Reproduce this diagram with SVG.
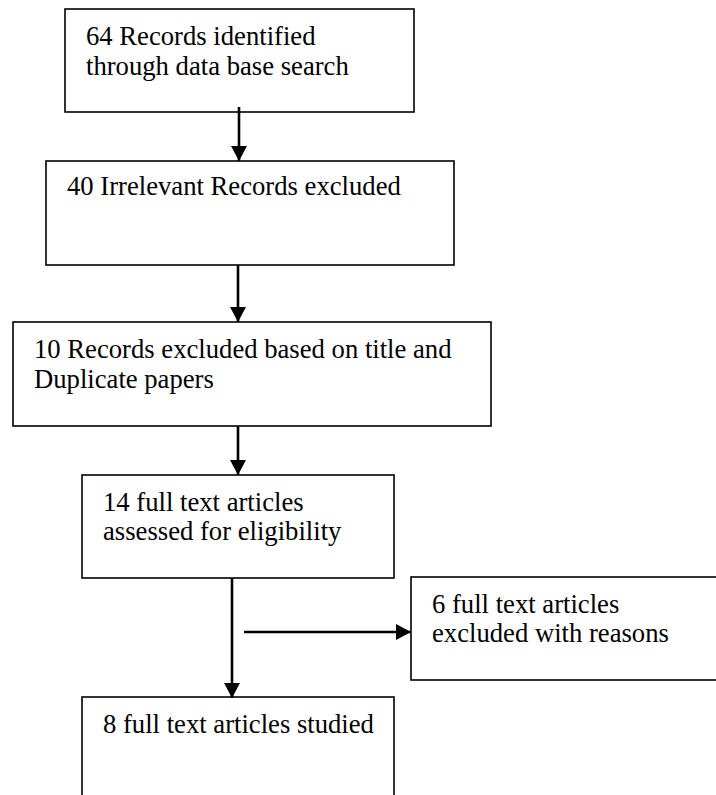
<svg xmlns="http://www.w3.org/2000/svg" width="716" height="795" viewBox="0 0 716 795">
<style>
.box{fill:#fff;stroke:#000;stroke-width:1.6}
.t{font-family:"Liberation Serif","Times New Roman",serif;font-size:26.67px;fill:#000}
.c{stroke:#000;stroke-width:2.6;fill:none}
</style>
<defs>
<marker id="ah" viewBox="0 0 15 16" refX="15" refY="8" markerWidth="15" markerHeight="16" markerUnits="userSpaceOnUse" orient="auto">
<path d="M0,0 L15,8 L0,16 z" fill="#000"/>
</marker>
</defs>
<rect width="716" height="795" fill="#fff"/>
<g id="n1">
<rect class="box" x="65" y="9" width="349" height="103"/>
<text class="t" x="86" y="45">64 Records identified</text>
<text class="t" x="86" y="75">through data base search</text>
</g>
<g id="n2">
<rect class="box" x="46" y="161" width="408" height="104"/>
<text class="t" x="67" y="195">40 Irrelevant Records excluded</text>
</g>
<g id="n3">
<rect class="box" x="13" y="322" width="478" height="104"/>
<text class="t" x="34" y="358">10 Records excluded based on title and</text>
<text class="t" x="34" y="388">Duplicate papers</text>
</g>
<g id="n4">
<rect class="box" x="82" y="475" width="312" height="103"/>
<text class="t" x="103" y="511">14 full text articles</text>
<text class="t" x="103" y="540">assessed for eligibility</text>
</g>
<g id="n5">
<rect class="box" x="411" y="577" width="320" height="103"/>
<text class="t" x="432" y="613">6 full text articles</text>
<text class="t" x="432" y="642">excluded with reasons</text>
</g>
<g id="n6">
<rect class="box" x="82" y="697" width="312" height="110"/>
<text class="t" x="103" y="733">8 full text articles studied</text>
</g>
<g id="connectors">
<line class="c" x1="239" y1="107" x2="239" y2="161" marker-end="url(#ah)"/>
<line class="c" x1="238" y1="265" x2="238" y2="322" marker-end="url(#ah)"/>
<line class="c" x1="238" y1="426" x2="238" y2="475" marker-end="url(#ah)"/>
<line class="c" x1="232" y1="578" x2="232" y2="698" marker-end="url(#ah)"/>
<line class="c" x1="244" y1="632" x2="411" y2="632" marker-end="url(#ah)"/>
</g>
</svg>
